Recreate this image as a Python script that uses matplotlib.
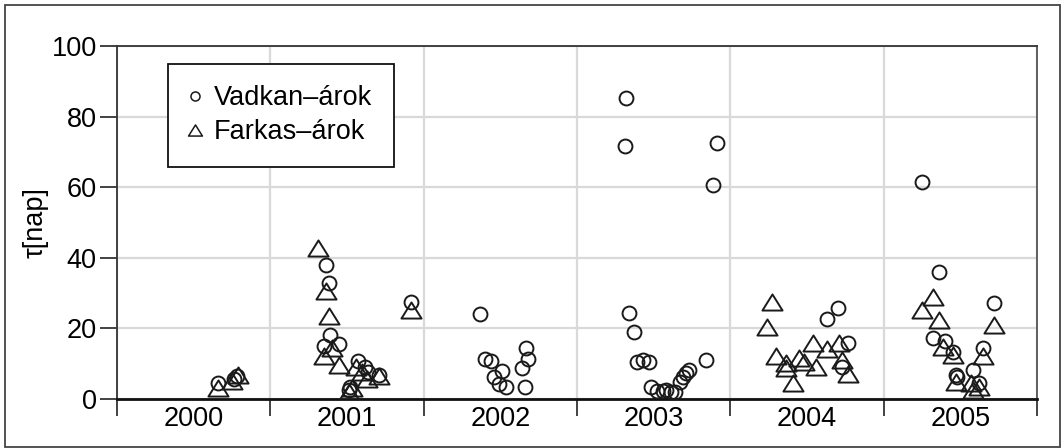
import numpy as np
import matplotlib.pyplot as plt
from matplotlib.path import Path
from matplotlib.lines import Line2D

plt.rcParams['font.family'] = ['Liberation Sans', 'DejaVu Sans']

# Vadkan-árok (circles): decimal year, tau [nap]
vad_x = [2000.66, 2000.76, 2000.78,
         2001.36, 2001.38, 2001.39, 2001.35, 2001.45, 2001.57, 2001.62, 2001.64,
         2001.71, 2001.52, 2001.51, 2001.92,
         2002.37, 2002.40, 2002.44, 2002.51, 2002.46, 2002.49, 2002.54, 2002.67,
         2002.68, 2002.64, 2002.66,
         2003.32, 2003.31, 2003.91, 2003.89, 2003.34, 2003.37, 2003.39, 2003.43,
         2003.47, 2003.48, 2003.52, 2003.56, 2003.58, 2003.61, 2003.64, 2003.67,
         2003.69, 2003.71, 2003.73, 2003.84,
         2004.63, 2004.70, 2004.77, 2004.73,
         2005.25, 2005.36, 2005.32, 2005.40, 2005.45, 2005.47, 2005.48, 2005.585,
         2005.62, 2005.65, 2005.72]
vad_y = [4.6, 5.8, 6.4,
         38.0, 33.0, 18.1, 15.0, 15.5, 10.9, 9.2, 7.6,
         6.8, 3.3, 2.5, 27.6,
         24.1, 11.4, 10.9, 7.9, 6.1, 4.2, 3.5, 14.4,
         11.3, 8.7, 3.3,
         85.4, 71.7, 72.4, 60.5, 24.3, 19.1, 10.6, 11.0,
         10.6, 3.3, 2.2, 2.2, 2.6, 1.9, 1.9, 4.9,
         6.1, 7.3, 8.2, 11.0,
         22.7, 25.7, 16.0, 9.2,
         61.4, 36.1, 17.2, 16.4, 13.4, 6.8, 6.3, 8.2,
         4.4, 14.4, 27.1]

# Farkas-árok (triangles)
fark_x = [2000.66, 2000.75, 2000.79,
          2001.31, 2001.36, 2001.38, 2001.35, 2001.40, 2001.45, 2001.56, 2001.63,
          2001.60, 2001.71, 2001.53, 2001.51, 2001.92,
          2004.27, 2004.24, 2004.30, 2004.36, 2004.36, 2004.41, 2004.45, 2004.48,
          2004.54, 2004.56, 2004.63, 2004.71, 2004.73, 2004.77,
          2005.32, 2005.25, 2005.36, 2005.39, 2005.45, 2005.47, 2005.57, 2005.62,
          2005.58, 2005.65, 2005.72]
fark_y = [3.0, 5.0, 6.8,
          42.7, 30.6, 23.5, 12.2, 14.4, 9.6, 9.0, 5.8,
          7.7, 6.4, 3.2, 2.0, 25.2,
          27.6, 20.5, 12.2, 10.3, 8.7, 4.6, 11.5, 10.6,
          16.0, 9.0, 14.1, 16.0, 11.0, 7.1,
          29.0, 25.2, 22.4, 14.8, 12.5, 4.9, 4.4, 3.5,
          2.5, 12.2, 21.0]

years = [2000, 2001, 2002, 2003, 2004, 2005]
yticks = [0, 20, 40, 60, 80, 100]

# flat triangle (wider than tall)
tri = Path([(-1, -0.8), (1, -0.8), (0, 0.8), (-1, -0.8)],
           [Path.MOVETO, Path.LINETO, Path.LINETO, Path.CLOSEPOLY])

fig = plt.figure(figsize=(10.62, 4.48), dpi=100)
ax = fig.add_axes([117/1062, 49/448, 920/1062, 353/448])

ax.plot(vad_x, vad_y, linestyle='none', marker='o', ms=10, mfc='none',
        mec='#1a1a1a', mew=1.4, zorder=3)
ax.plot(fark_x, fark_y, linestyle='none', marker=tri, ms=14.5, mfc='none',
        mec='#1a1a1a', mew=1.4, zorder=3)

ax.set_xlim(2000, 2006)
ax.set_ylim(0, 100)
ax.set_xticks(np.arange(2000, 2007))
ax.set_xticklabels([])
ax.set_xticks([y + 0.5 for y in years], minor=True)
ax.set_xticklabels([str(y) for y in years], minor=True, fontsize=19.5)
ax.set_yticks(yticks)
ax.set_yticklabels([str(v) for v in yticks], fontsize=19.5)
ax.tick_params(axis='x', which='major', length=12.5, width=1.2, color='#222222', direction='out')
ax.tick_params(axis='x', which='minor', length=0, pad=5)
ax.tick_params(axis='y', length=12.5, width=1.2, color='#222222', pad=2)

ax.grid(True, which='major', color='#d9d9d9', linewidth=1.6)
ax.set_axisbelow(True)

ax.spines['bottom'].set_linewidth(2.0)
ax.spines['bottom'].set_color('#111111')
ax.spines['left'].set_linewidth(1.3)
ax.spines['left'].set_color('#333333')
ax.spines['top'].set_linewidth(1.3)
ax.spines['top'].set_color('#333333')
ax.spines['right'].set_linewidth(1.3)
ax.spines['right'].set_color('#555555')

ax.set_ylabel('τ[nap]', fontsize=19.5, labelpad=2)

handles = [Line2D([], [], linestyle='none', marker='o', ms=6.5, mfc='none',
                  mec='#1a1a1a', mew=1.1),
           Line2D([], [], linestyle='none', marker=tri, ms=10, mfc='none',
                  mec='#1a1a1a', mew=1.1)]
leg = ax.legend(handles, ['Vadkan–árok', 'Farkas–árok'], loc='upper left',
                bbox_to_anchor=(0.055, 0.95), fontsize=19.5, fancybox=False,
                framealpha=1, edgecolor='#111111', borderpad=0.8,
                handlelength=0.4, handletextpad=0.5,
                labelspacing=0.3, borderaxespad=0)
leg.get_frame().set_linewidth(1.3)

# outer frame around the whole figure
fig.add_artist(plt.Rectangle((5/1062, 1/448), 1055/1062, 442/448,
                             transform=fig.transFigure, fill=False,
                             edgecolor='#444444', linewidth=1.3))

fig.savefig('out.png', dpi=100)
